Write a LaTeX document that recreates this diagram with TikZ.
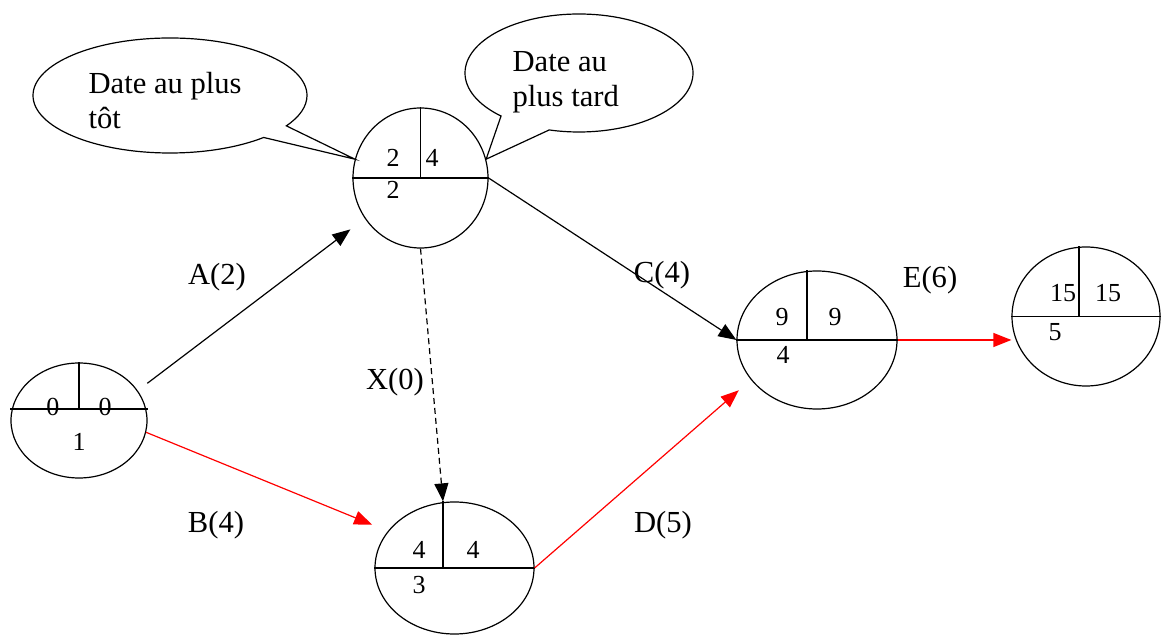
\documentclass[tikz,border=0pt]{standalone}
\usepackage{fontspec}
\setmainfont{Liberation Serif}
\usetikzlibrary{arrows.meta,shapes.geometric,shapes.callouts}

\begin{document}
\begin{tikzpicture}[x=0.5pt, y=-0.5pt, line width=0.6pt,
  event/.style={draw, ellipse, inner sep=0pt},
  num/.style={font=\fontsize{13}{15}\selectfont, inner sep=0pt},
  lbl/.style={font=\fontsize{15.3}{17.5}\selectfont, inner sep=0pt},
  bubble/.style={draw, ellipse callout, inner sep=0pt},
  act/.style={-{Triangle[length=9pt, width=7pt]}},
  crit/.style={act, red},
  dummy/.style={act, dash pattern=on 3pt off 2pt}]
  \useasboundingbox (0,0) rectangle (1161,635);
  % events
  \node[event, minimum width=68pt, minimum height=57.5pt] (ev1) at (79,420.5) {};
  \node[event, minimum width=67.5pt, minimum height=70pt] (ev2) at (420.5,178) {};
  \node[event, minimum width=79.5pt, minimum height=66pt] (ev3) at (454.5,568) {};
  \node[event, minimum width=80pt, minimum height=69pt] (ev4) at (817,340) {};
  \node[event, minimum width=74pt, minimum height=69.5pt] (ev5) at (1086,316.5) {};
  % dividers
  \draw ([yshift=5.75pt]ev1.west) -- ([yshift=5.75pt]ev1.east);
  \draw (ev1.north) -- ([yshift=5.75pt]ev1.center);
  \draw (ev2.west) -- (ev2.east);
  \draw (ev2.north) -- (ev2.center);
  \draw (ev3.west) -- (ev3.east);
  \draw ([xshift=-5.75pt]ev3.north) -- ([xshift=-5.75pt]ev3.center);
  \draw (ev4.west) -- (ev4.east);
  \draw ([xshift=-5pt]ev4.north) -- ([xshift=-5pt]ev4.center);
  \draw (ev5.west) -- (ev5.east);
  \draw ([xshift=-3.5pt]ev5.north) -- ([xshift=-3.5pt]ev5.center);
  % dates
  \node[num] (d1a) at (53,407) {0};
  \node[num] (d1b) at (105,407) {0};
  \node[num] (d1c) at (79,442) {1};
  \node[num] (d2a) at (393,158) {2};
  \node[num] (d2b) at (432,158) {4};
  \node[num] (d2c) at (393,190) {2};
  \node[num] (d3a) at (419,550) {4};
  \node[num] (d3b) at (473,550) {4};
  \node[num] (d3c) at (419,585) {3};
  \node[num] (d4a) at (782,317) {9};
  \node[num] (d4b) at (835,317) {9};
  \node[num] (d4c) at (783,355) {4};
  \node[num] (d5a) at (1063,293) {15};
  \node[num] (d5b) at (1108,293) {15};
  \node[num] (d5c) at (1055,332) {5};
  % activities
  \draw[act, shorten <=6pt, shorten >=9pt] (ev1.27) -- (ev2.216);
  \draw[crit, shorten >=8.5pt] (ev1.-10) -- (ev3.151);
  \draw[dummy] (ev2.south) -- ([xshift=-5.75pt]ev3.north);
  \draw[act] (ev2.east) -- (ev4.west);
  \draw[crit, shorten >=8pt] (ev3.east) -- (ev4.211);
  \draw[crit] (ev4.east) -- (ev4.east -| ev5.west);
  \node[lbl] (la) at (217,277) {A(2)};
  \node[lbl] (lb) at (216,525) {B(4)};
  \node[lbl] (lx) at (395,382) {X(0)};
  \node[lbl] (lc) at (662,275) {C(4)};
  \node[lbl] (ld) at (663,525) {D(5)};
  \node[lbl] (le) at (930,280) {E(6)};
  % callouts
  \node[bubble, minimum width=137pt, minimum height=57.5pt,
    callout absolute pointer={(ev2.164)}] (tot) at (170,95.5) {};
  \node[bubble, minimum width=114pt, minimum height=59pt,
    callout absolute pointer={(ev2.16)}, callout pointer arc=28] (tard) at (579,73) {};
  \node[lbl, align=left, anchor=north west] (ttot) at (88,72) {Date au plus\\tôt};
  \node[lbl, align=left, anchor=north west] (ttard) at (512,51) {Date au\\plus tard};
\end{tikzpicture}
\end{document}
